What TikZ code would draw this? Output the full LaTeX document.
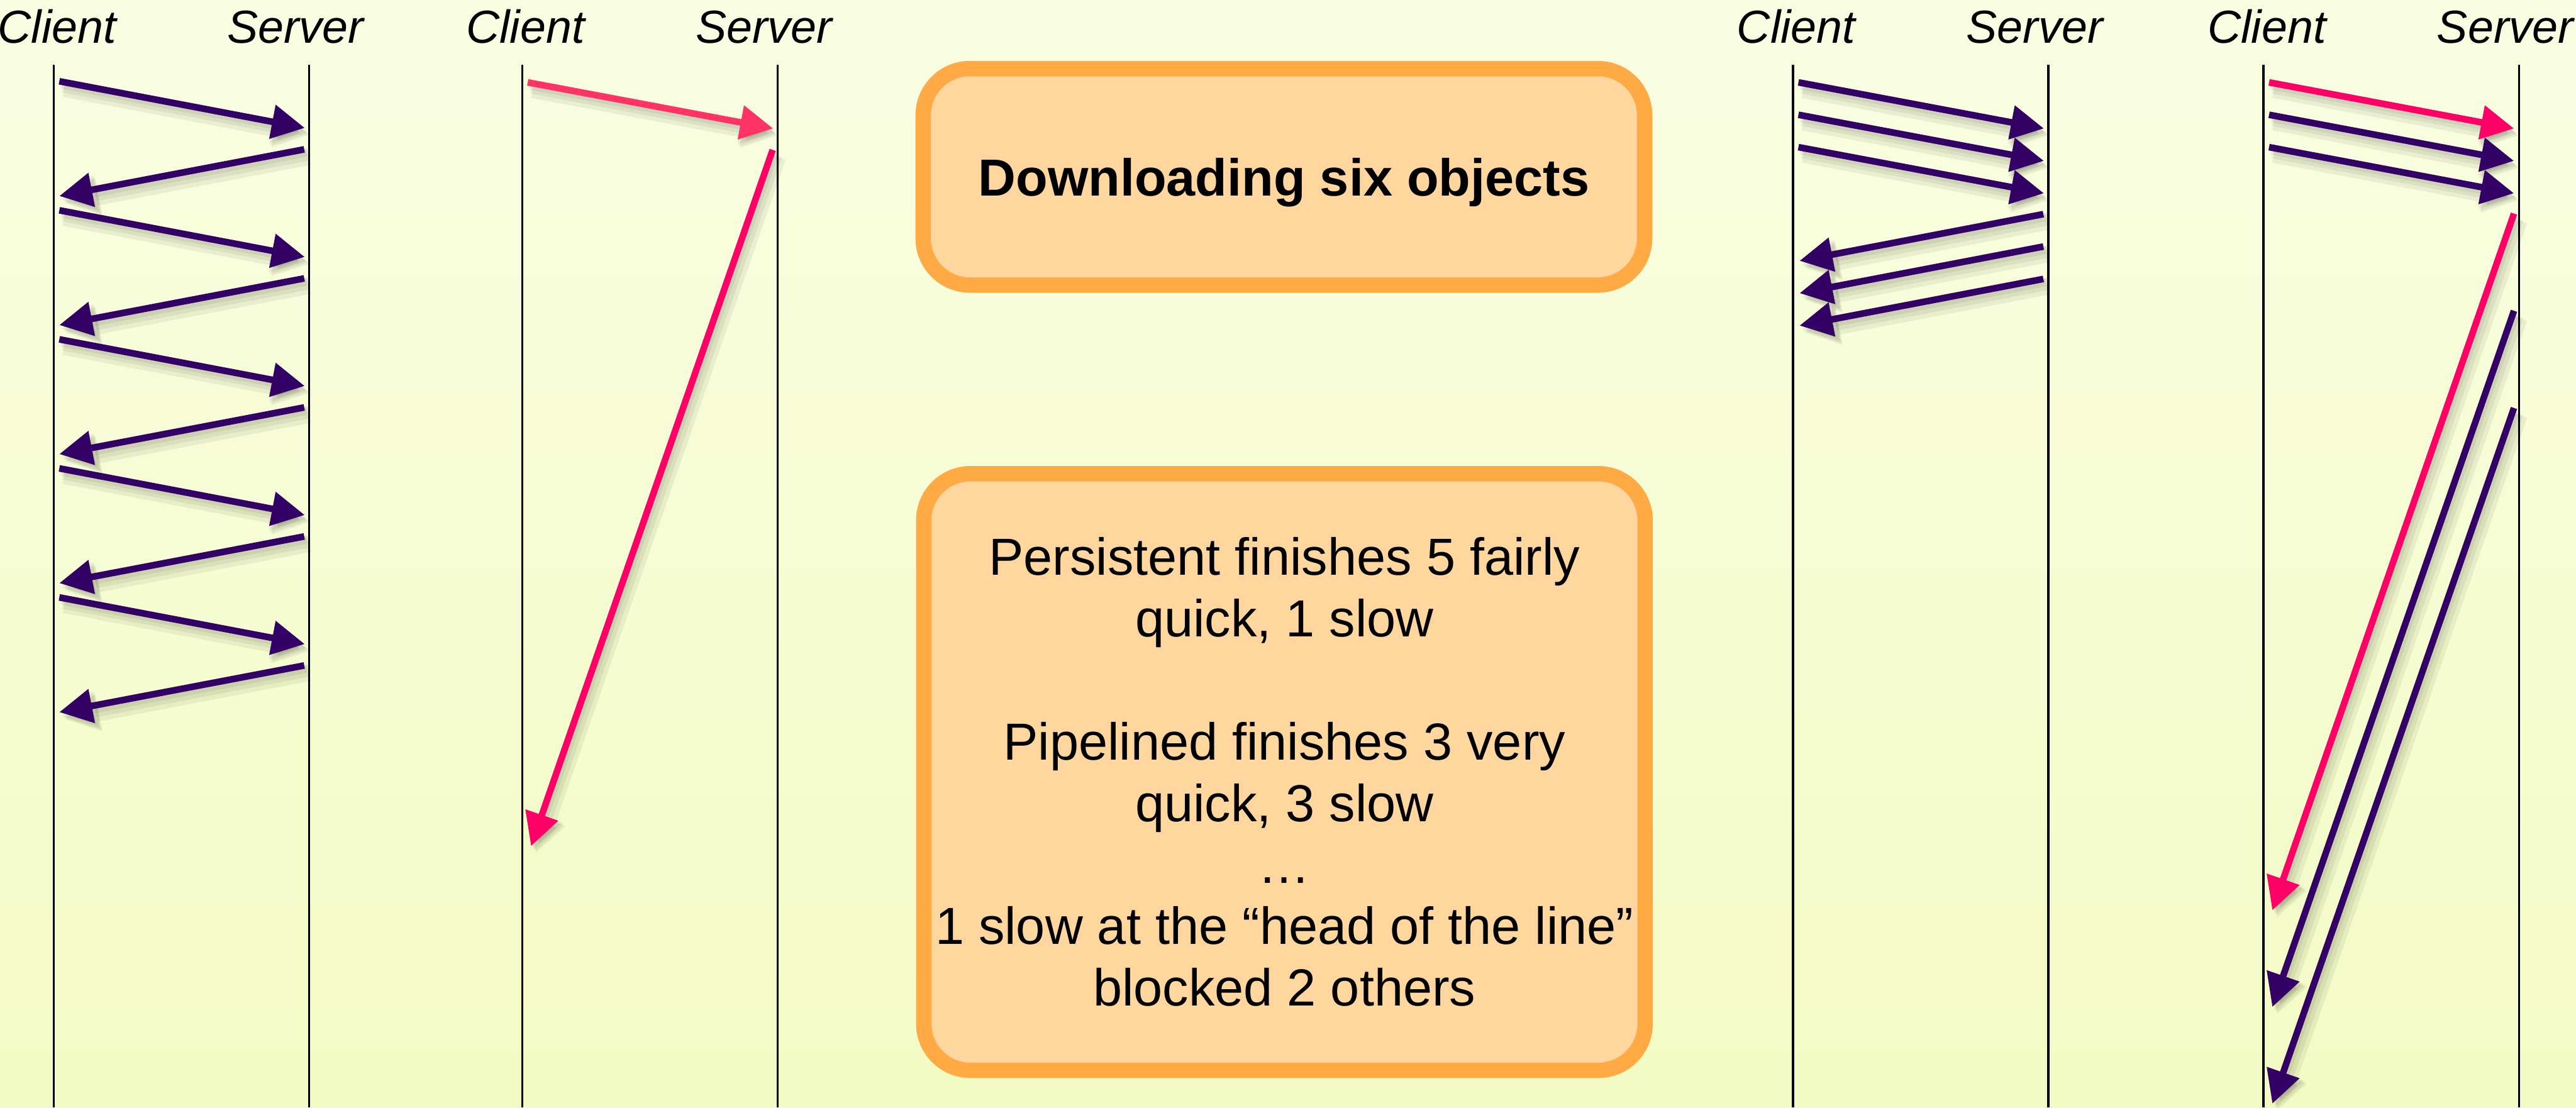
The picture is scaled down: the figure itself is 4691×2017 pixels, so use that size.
\documentclass[tikz,border=0pt]{standalone}
\usepackage{fontspec}
\setmainfont{Liberation Sans}
\usetikzlibrary{arrows.meta}

\definecolor{bgtop}{HTML}{F9FDE2}
\definecolor{bgbot}{HTML}{F3FBC4}
\definecolor{reqpurple}{HTML}{330066}
\definecolor{hotpink}{HTML}{FF0066}
\definecolor{softpink}{HTML}{FF3366}
\definecolor{boxfill}{HTML}{FFD69E}
\definecolor{boxedge}{HTML}{FFAA44}

\tikzset{
  lifeline/.style={line width=0.04cm, draw=black},
  hdr/.style={font=\fontsize{24pt}{28pt}\selectfont\itshape, anchor=base, inner sep=0pt},
  msgline/.style={line width=0.12cm, draw=#1, -{Triangle[length=0.6cm,width=0.6cm]}},
  msgshade/.style={line width=#1, draw=black, opacity=0.06,
                   -{Triangle[length=0.64cm,width=0.64cm]}},
  infobox/.style={draw=boxedge, fill=boxfill, line width=0.28cm, rounded corners=0.85cm,
                  align=center, inner sep=0pt, minimum width=13.13cm},
}

% one message: soft drop shadow first, then the arrow itself
\newcommand\sendmsg[3]{%
  \draw[msgshade=0.13cm, transform canvas={shift={(4,7)}}] (#2) -- (#3);
  \draw[msgshade=0.21cm, transform canvas={shift={(7,10)}}] (#2) -- (#3);
  \draw[msgshade=0.31cm, transform canvas={shift={(9,13)}}] (#2) -- (#3);
  \draw[msgline=#1] (#2) -- (#3);
}

\begin{document}
\begin{tikzpicture}[x=0.01cm, y=-0.01cm]
  \useasboundingbox (0,0) rectangle (4691,2017);
  \fill[top color=bgtop, bottom color=bgbot] (0,0) rectangle (4691,2017);

  % lifelines and their headers
  \foreach \c/\s/\n in {98/563/1, 951/1416/2, 3265/3730/3, 4122/4587/4}{
    \draw[lifeline] (\c,118) -- (\c,2017);
    \draw[lifeline] (\s,118) -- (\s,2017);
    \node[hdr] (client\n) at (\c+6,78) {Client};
    \node[hdr] (server\n) at (\s-25,78) {Server};
  }

  % non-persistent: one request, one response at a time
  \foreach \i in {0,...,4}{
    \coordinate (a1req\i) at (108, 148+235*\i);
    \coordinate (b1req\i) at (555, 233+235*\i);
    \coordinate (a1rsp\i) at (554, 272+235*\i);
    \coordinate (b1rsp\i) at (108, 357+235*\i);
    \sendmsg{reqpurple}{a1req\i}{b1req\i}
    \sendmsg{reqpurple}{a1rsp\i}{b1rsp\i}
  }

  % one slow object
  \coordinate (a2req) at (961,150);
  \coordinate (b2req) at (1408,234);
  \coordinate (a2rsp) at (1407,273);
  \coordinate (b2rsp) at (967,1541);
  \sendmsg{softpink}{a2req}{b2req}
  \sendmsg{hotpink}{a2rsp}{b2rsp}

  % pipelined, all quick
  \foreach \i in {0,1,2}{
    \coordinate (a3req\i) at (3275, 150+59*\i);
    \coordinate (b3req\i) at (3722, 234+59*\i);
    \coordinate (a3rsp\i) at (3721, 390+59*\i);
    \coordinate (b3rsp\i) at (3277, 475+59*\i);
    \sendmsg{reqpurple}{a3req\i}{b3req\i}
    \sendmsg{reqpurple}{a3rsp\i}{b3rsp\i}
  }

  % pipelined, slow object at the head of the line
  \foreach \i/\col in {0/hotpink, 1/reqpurple, 2/reqpurple}{
    \coordinate (a4req\i) at (4132, 150+59*\i);
    \coordinate (b4req\i) at (4578, 234+59*\i);
    \sendmsg{\col}{a4req\i}{b4req\i}
  }
  \foreach \i/\col in {0/hotpink, 1/reqpurple, 2/reqpurple}{
    \coordinate (a4rsp\i) at (4578, 389+177*\i);
    \coordinate (b4rsp\i) at (4138, 1658+176*\i);
    \sendmsg{\col}{a4rsp\i}{b4rsp\i}
  }

  % captions
  \node[infobox, minimum height=3.94cm, text depth=0pt,
        font=\fontsize{27pt}{31.87pt}\selectfont\bfseries]
    (title) at (2338,322) {Downloading six objects};
  \node[infobox, minimum height=10.86cm, font=\fontsize{27pt}{31.87pt}\selectfont]
    (summary) at (2339,1406) {Persistent finishes 5 fairly\\
      quick, 1 slow\\[31.87pt]
      Pipelined finishes 3 very\\
      quick, 3 slow\\
      …\\
      1 slow at the “head of the line”\\
      blocked 2 others};
\end{tikzpicture}
\end{document}
